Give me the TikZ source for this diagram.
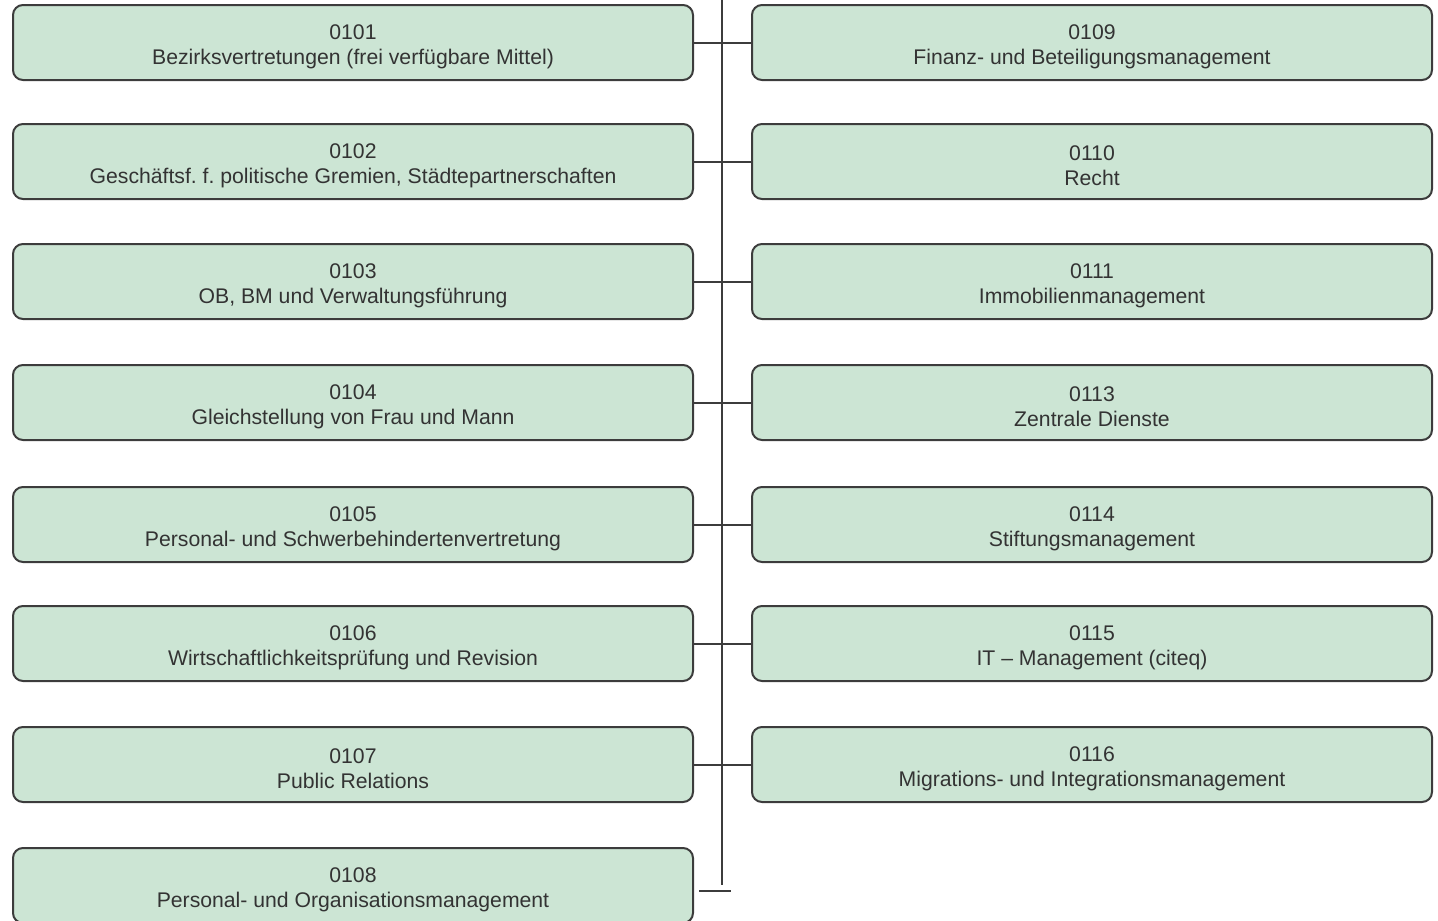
\documentclass[tikz,border=0pt]{standalone}
\usepackage{fontspec}
\setmainfont{Liberation Sans}
\definecolor{boxfill}{HTML}{CCE5D4}
\definecolor{lineclr}{HTML}{3C3C3C}
\definecolor{txtclr}{HTML}{333333}
\frenchspacing
\newcommand{\orgtxt}[2]{\rule{0pt}{22.5pt}#1\\#2}
\tikzset{
  orgbox/.style={draw=lineclr, line width=2pt, fill=boxfill, rounded corners=10pt,
    minimum width=680pt, minimum height=75pt, inner sep=0pt, align=center,
    text=txtclr, font=\fontsize{21.2pt}{25pt}\selectfont},
  conn/.style={draw=lineclr, line width=2pt}
}
\begin{document}
\begin{tikzpicture}[x=1pt,y=-1pt]
\useasboundingbox (0,0) rectangle (1438,921);
\begin{scope}
\clip (0,0) rectangle (1438,921);
\node[orgbox] (L1) at (353,42.5) {\orgtxt{0101}{Bezirksvertretungen (frei verfügbare Mittel)}};
\node[orgbox] (L2) at (353,161.5) {\orgtxt{0102}{Geschäftsf. f. politische Gremien, Städtepartnerschaften}};
\node[orgbox] (L3) at (353,281.5) {\orgtxt{0103}{OB, BM und Verwaltungsführung}};
\node[orgbox] (L4) at (353,402.5) {\orgtxt{0104}{Gleichstellung von Frau und Mann}};
\node[orgbox] (L5) at (353,524.5) {\orgtxt{0105}{Personal- und Schwerbehindertenvertretung}};
\node[orgbox] (L6) at (353,643.5) {\orgtxt{0106}{Wirtschaftlichkeitsprüfung und Revision}};
\node[orgbox] (L7) at (353,764.5) {\orgtxt{0107}{Public Relations}};
\node[orgbox] (L8) at (353,885.5) {\orgtxt{0108}{Personal- und Organisationsmanagement}};
\node[orgbox] (R1) at (1092,42.5) {\orgtxt{0109}{Finanz- und Beteiligungsmanagement}};
\node[orgbox] (R2) at (1092,161.5) {\orgtxt{0110}{Recht}};
\node[orgbox] (R3) at (1092,281.5) {\orgtxt{0111}{Immobilienmanagement}};
\node[orgbox] (R4) at (1092,402.5) {\orgtxt{0113}{Zentrale Dienste}};
\node[orgbox] (R5) at (1092,524.5) {\orgtxt{0114}{Stiftungsmanagement}};
\node[orgbox] (R6) at (1092,643.5) {\orgtxt{0115}{IT – Management (citeq)}};
\node[orgbox] (R7) at (1092,764.5) {\orgtxt{0116}{Migrations- und Integrationsmanagement}};
\coordinate (top) at (722,-2);
\coordinate (bot) at (722,885);
\coordinate (tickL) at (699,891);
\coordinate (tickR) at (731,891);
\draw[conn] (top) -- (bot);
\foreach \i in {1,...,7} {
  \draw[conn] (L\i.east) -- (R\i.west);
}
\draw[conn] (tickL) -- (tickR);
\end{scope}
\end{tikzpicture}
\end{document}
